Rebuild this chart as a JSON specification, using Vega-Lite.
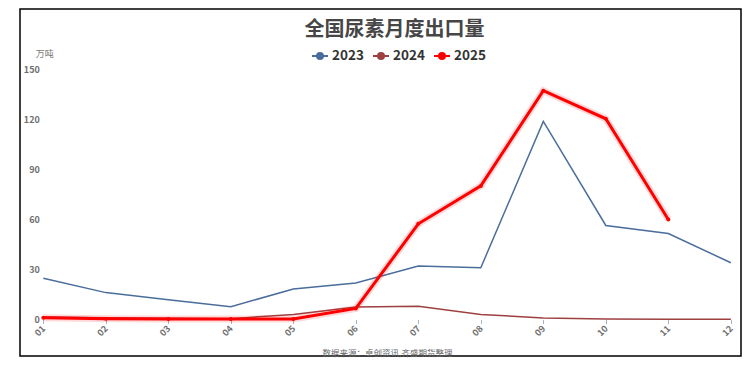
{
  "$schema": "https://vega.github.io/schema/vega-lite/v6.json",
  "width": 721,
  "height": 347,
  "autosize": "none",
  "padding": {"left": 20, "top": 9, "right": 8, "bottom": 9},
  "background": "white",
  "config": {
    "view": {"stroke": "#000000", "strokeWidth": 1.5},
    "font": "Noto Sans CJK SC"
  },
  "title": {
    "text": "全国尿素月度出口量",
    "fontSize": 20,
    "fontWeight": "bold",
    "color": "#464646",
    "anchor": "middle",
    "dx": 14,
    "dy": -3,
    "offset": -34,
    "font": "Noto Sans CJK SC"
  },
  "data": {
    "values": [
      {"month": 1, "year": "2023", "value": 24.7},
      {"month": 2, "year": "2023", "value": 16.1},
      {"month": 3, "year": "2023", "value": 11.8},
      {"month": 4, "year": "2023", "value": 7.7},
      {"month": 5, "year": "2023", "value": 18.2},
      {"month": 6, "year": "2023", "value": 21.8},
      {"month": 7, "year": "2023", "value": 32.0},
      {"month": 8, "year": "2023", "value": 31.0},
      {"month": 9, "year": "2023", "value": 118.6},
      {"month": 10, "year": "2023", "value": 56.3},
      {"month": 11, "year": "2023", "value": 51.5},
      {"month": 12, "year": "2023", "value": 34.0},
      {"month": 1, "year": "2024", "value": 1.5},
      {"month": 2, "year": "2024", "value": 1.0},
      {"month": 3, "year": "2024", "value": 0.8},
      {"month": 4, "year": "2024", "value": 0.5},
      {"month": 5, "year": "2024", "value": 3.0},
      {"month": 6, "year": "2024", "value": 7.5},
      {"month": 7, "year": "2024", "value": 8.0},
      {"month": 8, "year": "2024", "value": 3.0},
      {"month": 9, "year": "2024", "value": 0.9},
      {"month": 10, "year": "2024", "value": 0.3},
      {"month": 11, "year": "2024", "value": 0.2},
      {"month": 12, "year": "2024", "value": 0.2},
      {"month": 1, "year": "2025", "value": 1.0},
      {"month": 2, "year": "2025", "value": 0.5},
      {"month": 3, "year": "2025", "value": 0.3},
      {"month": 4, "year": "2025", "value": 0.3},
      {"month": 5, "year": "2025", "value": 0.3},
      {"month": 6, "year": "2025", "value": 6.6},
      {"month": 7, "year": "2025", "value": 57.3},
      {"month": 8, "year": "2025", "value": 80.0},
      {"month": 9, "year": "2025", "value": 137.0},
      {"month": 10, "year": "2025", "value": 120.2},
      {"month": 11, "year": "2025", "value": 59.9}
    ]
  },
  "encoding": {
    "x": {
      "field": "month",
      "type": "quantitative",
      "scale": {"domain": [0.627, 12.163], "nice": false, "zero": false},
      "axis": {
        "values": [1, 2, 3, 4, 5, 6, 7, 8, 9, 10, 11, 12],
        "labelExpr": "datum.value < 10 ? '0' + datum.value : '' + datum.value",
        "labelAngle": -45,
        "labelAlign": "right",
        "labelBaseline": "middle",
        "labelFontSize": 9,
        "labelFontWeight": "bold",
        "labelColor": "#6e6e6e",
        "labelPadding": 3,
        "domain": false,
        "grid": false,
        "ticks": true,
        "tickSize": 4,
        "tickColor": "#a9b0bf",
        "offset": -36.5,
        "title": "数据来源：卓创资讯,齐盛期货整理",
        "titleFontSize": 8.5,
        "titleFontWeight": "normal",
        "titleColor": "#666666",
        "titleX": 367,
        "titleY": 33,
        "titleBaseline": "middle",
        "titleAlign": "center"
      }
    },
    "y": {
      "field": "value",
      "type": "quantitative",
      "scale": {"domain": [-21.86, 185.93], "nice": false, "zero": false},
      "axis": {
        "values": [0, 30, 60, 90, 120, 150],
        "domain": false,
        "ticks": false,
        "grid": false,
        "offset": -23.3,
        "labelPadding": 4,
        "labelFontSize": 9,
        "labelFontWeight": "bold",
        "labelColor": "#6e6e6e",
        "title": "万吨",
        "titleAngle": 0,
        "titleX": 1,
        "titleY": 44.5,
        "titleBaseline": "middle",
        "titleAlign": "center",
        "titleFontSize": 9,
        "titleFontWeight": "normal",
        "titleColor": "#777777"
      }
    }
  },
  "layer": [
    {
      "data": {"values": [{"value": 30}, {"value": 60}, {"value": 90}, {"value": 120}, {"value": 150}]},
      "mark": {"type": "rule", "color": "#eef1f7", "strokeWidth": 1},
      "encoding": {
        "x": {"datum": 1},
        "x2": {"datum": 12}
      }
    },
    {
      "data": {"values": [{"value": 0}]},
      "mark": {"type": "rule", "color": "#a9b0bf", "strokeWidth": 1},
      "encoding": {
        "x": {"datum": 1},
        "x2": {"datum": 12}
      }
    },
    {
      "transform": [{"filter": "datum.year != '2025'"}],
      "mark": {"type": "line", "strokeWidth": 1.5},
      "encoding": {
        "color": {
          "field": "year",
          "type": "nominal",
          "scale": {"domain": ["2023", "2024", "2025"], "range": ["#4a6d9c", "#9e4040", "#ff0000"]},
          "legend": {
            "orient": "none",
            "legendX": 291,
            "legendY": 38,
            "direction": "horizontal",
            "title": null,
            "labelFontSize": 13.5,
            "labelFontWeight": "bold",
            "labelColor": "#333333",
            "labelFont": "Noto Sans CJK SC",
            "symbolType": "M-1,0L1,0M-0.375,0A0.375,0.375,0,1,1,0.375,0A0.375,0.375,0,1,1,-0.375,0Z",
            "symbolSize": 256,
            "symbolStrokeWidth": 2,
            "columnPadding": 5,
            "labelOffset": 3,
            "encode": {
              "symbols": {"update": {"fill": {"scale": "color", "field": "value"}, "fillOpacity": {"value": 1}}}
            }
          }
        }
      }
    },
    {
      "transform": [{"filter": "datum.year == '2025'"}],
      "mark": {"type": "line", "strokeWidth": 7, "color": "#ff0000", "opacity": 0.15},
      "encoding": {}
    },
    {
      "transform": [{"filter": "datum.year == '2025'"}],
      "mark": {"type": "line", "strokeWidth": 3},
      "encoding": {
        "color": {"field": "year", "type": "nominal"}
      }
    },
    {
      "transform": [{"filter": "datum.year == '2025'"}],
      "mark": {"type": "point", "filled": true, "size": 16, "opacity": 1},
      "encoding": {
        "color": {"field": "year", "type": "nominal"}
      }
    }
  ]
}
